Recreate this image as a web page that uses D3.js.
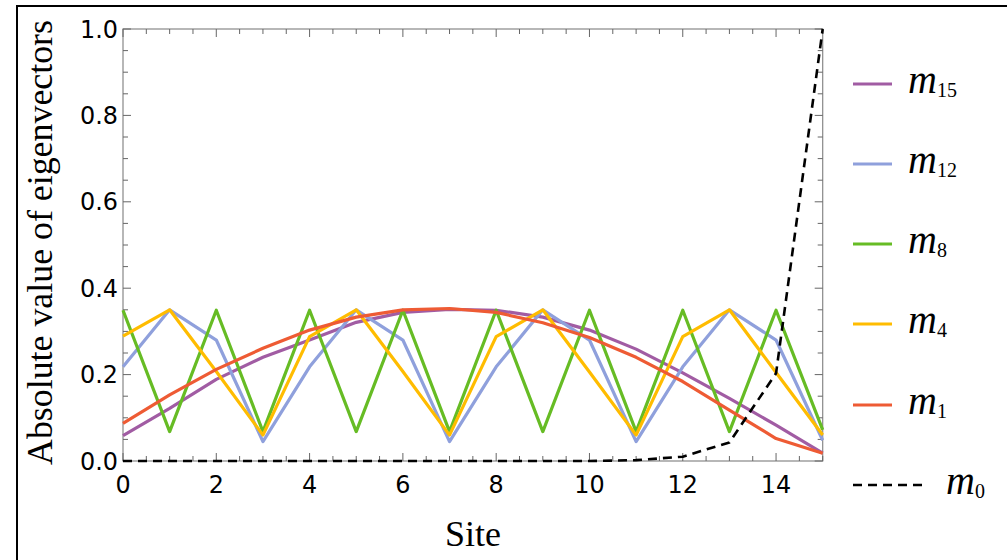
<!DOCTYPE html>
<html><head><meta charset="utf-8">
<script src="https://cdn.jsdelivr.net/npm/d3@7"></script>
<style>body{margin:0;background:#fff}svg{display:block}</style>
</head><body><svg id="c" width="1007" height="560"></svg>
<script>
const sites = d3.range(0, 16);
const m15 = [0.059,0.122,0.189,0.240,0.280,0.321,0.344,0.351,0.349,0.333,0.303,0.259,0.204,0.145,0.083,0.018];
const m12 = [0.218,0.350,0.280,0.045,0.218,0.350,0.280,0.045,0.218,0.350,0.280,0.045,0.218,0.350,0.280,0.048];
const m8  = [0.349,0.068,0.349,0.068,0.349,0.068,0.349,0.068,0.349,0.068,0.349,0.068,0.349,0.068,0.349,0.072];
const m4  = [0.289,0.350,0.207,0.060,0.288,0.350,0.207,0.060,0.288,0.350,0.206,0.060,0.288,0.350,0.205,0.060];
const m1  = [0.087,0.153,0.212,0.261,0.303,0.333,0.350,0.353,0.344,0.320,0.286,0.240,0.184,0.118,0.052,0.018];
const m0  = [0,0,0,0,0,0,0,0,0,0,0,0.002,0.010,0.043,0.203,1.0];
const yTicks = [0.0,0.2,0.4,0.6,0.8,1.0];
const xTicks = [0,2,4,6,8,10,12,14];

const series = [
  {name:"15", vals:m15, color:"#a15ca3", dash:null},
  {name:"12", vals:m12, color:"#8fa0dc", dash:null},
  {name:"8",  vals:m8,  color:"#66bc24", dash:null},
  {name:"4",  vals:m4,  color:"#ffbc00", dash:null},
  {name:"1",  vals:m1,  color:"#ee5b34", dash:null},
  {name:"0",  vals:m0,  color:"#000000", dash:"9,6"}
];

const SERIF = "Liberation Serif";
const SANS = "DejaVu Sans";

const svg = d3.select("#c");
svg.append("rect").attr("x",17).attr("y",6).attr("width",1100).attr("height",700)
  .attr("fill","none").attr("stroke","#000").attr("stroke-width",2);

const L=123,R=822.7,T=29,B=461;
const x = d3.scaleLinear().domain([0,15]).range([L,R]);
const y = d3.scaleLinear().domain([0,1]).range([B,T]);

const g = svg.append("g");
g.append("rect").attr("x",L).attr("y",T).attr("width",R-L).attr("height",B-T)
  .attr("fill","none").attr("stroke","#888").attr("stroke-width",1.2);

const xMinor = d3.range(0,15.01,0.5);
const yMinor = d3.range(0,1.001,0.05);
xMinor.forEach(v=>{
  const major = Math.abs(v%2)<1e-6;
  const len = major?8:5;
  g.append("line").attr("x1",x(v)).attr("x2",x(v)).attr("y1",B).attr("y2",B-len).attr("stroke","#666");
  g.append("line").attr("x1",x(v)).attr("x2",x(v)).attr("y1",T).attr("y2",T+len).attr("stroke","#666");
});
yMinor.forEach(v=>{
  const major = Math.abs(Math.round(v*100)%20)<1e-6;
  const len = major?8:5;
  g.append("line").attr("x1",L).attr("x2",L+len).attr("y1",y(v)).attr("y2",y(v)).attr("stroke","#666");
  g.append("line").attr("x1",R).attr("x2",R-len).attr("y1",y(v)).attr("y2",y(v)).attr("stroke","#666");
});

// measure tick font so "0.0" is ~38px wide
const probe = svg.append("text").style("font-family",SANS).attr("font-size",23).text("0.0");
const tfs = 23*38/probe.node().getComputedTextLength();
probe.remove();

g.selectAll(".xl").data(xTicks).enter().append("text")
  .attr("x",d=>x(d)).attr("y",493).attr("text-anchor","middle")
  .style("font-family",SANS).attr("font-size",tfs).text(d=>d);
g.selectAll(".yl").data(yTicks).enter().append("text")
  .attr("x",L-5).attr("y",d=>y(d)+0.36*tfs).attr("text-anchor","end")
  .style("font-family",SANS).attr("font-size",tfs).text(d=>d.toFixed(1));

function fit(t, target){
  const len = t.node().getComputedTextLength();
  const fs = +t.attr("font-size");
  t.attr("font-size", fs*target/len);
}
const xt = svg.append("text").attr("x",473).attr("y",546).attr("text-anchor","middle")
  .style("font-family",SERIF).attr("font-size",34).text("Site");
fit(xt,56);
const yt = svg.append("text").attr("transform","translate(52,242.5) rotate(-90)").attr("text-anchor","middle")
  .style("font-family",SERIF).attr("font-size",34).text("Absolute value of eigenvectors");
fit(yt,445);

const line = d3.line().x((d,i)=>x(sites[i])).y(d=>y(d));
series.forEach(s=>{
  g.append("path").attr("d",line(s.vals)).attr("fill","none").attr("stroke",s.color)
   .attr("stroke-width",s.dash?2.6:3.2).attr("stroke-dasharray",s.dash).attr("stroke-linejoin","round");
});

const legY = [84,164,244,324,405,485];
series.forEach((s,i)=>{
  const isDash = !!s.dash;
  svg.append("line").attr("x1",853).attr("x2",isDash?925:892).attr("y1",legY[i]).attr("y2",legY[i])
    .attr("stroke",s.color).attr("stroke-width",isDash?2.6:3.2).attr("stroke-dasharray",s.dash);
  const t = svg.append("text").attr("x",isDash?946:908).attr("y",legY[i]+9)
    .style("font-family",SERIF).attr("font-size",40);
  t.append("tspan").style("font-style","italic").text("m");
  t.append("tspan").attr("font-size",20).attr("dy",4).text(s.name);
});
</script></body></html>
